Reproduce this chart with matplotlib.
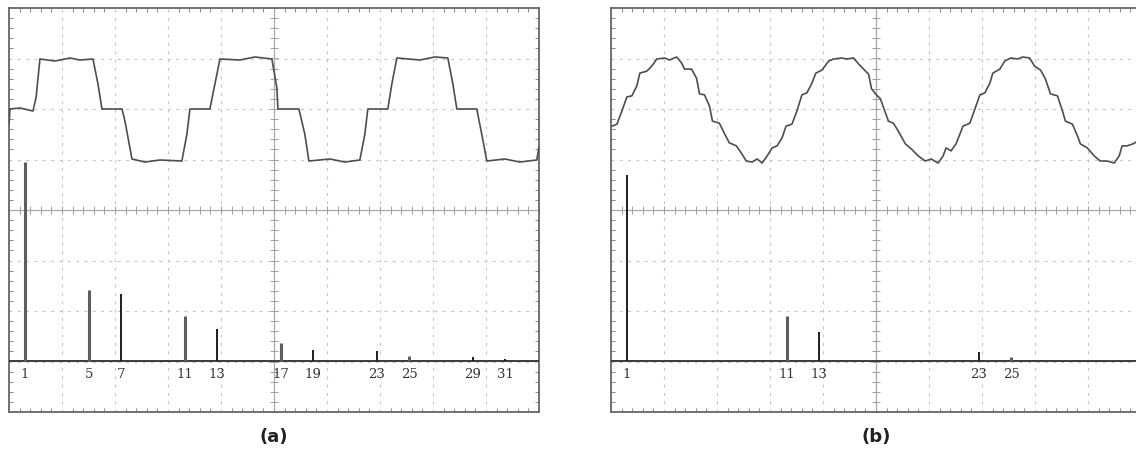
import matplotlib
matplotlib.use("Agg")
import matplotlib.pyplot as plt
import numpy as np

# time axis: 10 div = 50 ms (three 60 Hz cycles), vertical: 8 div
# waveform (a): 120-degree quasi-square wave (ms, per-unit)
t_a = [0.00, 0.09, 1.04, 2.26, 2.55, 2.92, 4.34, 5.75, 6.70, 7.92, 8.39, 8.77,
       10.66, 10.94, 11.60, 12.83, 14.24, 16.31, 16.78, 17.07, 18.95, 19.43, 19.90,
       21.78, 23.20, 24.80, 25.27, 25.37, 27.35, 27.91, 28.29, 30.27, 31.68, 33.10,
       33.57, 33.85, 35.74, 36.12, 36.59, 38.76, 40.17, 41.40, 41.87, 42.25, 44.13,
       44.60, 45.08, 46.77, 48.19, 49.79, 49.98]
v_a = [-0.30, 0.00, 0.02, -0.04, 0.22, 0.99, 0.95, 1.01, 0.97, 0.99, 0.50, 0.00,
       0.00, -0.24, -0.99, -1.05, -1.01, -1.03, -0.50, 0.00, 0.00, 0.50, 0.99,
       0.97, 1.03, 0.99, 0.42, 0.00, 0.00, -0.50, -1.03, -0.99, -1.05, -1.01,
       -0.50, 0.00, 0.00, 0.50, 1.01, 0.97, 1.03, 1.01, 0.50, 0.00, 0.00,
       -0.50, -1.03, -0.99, -1.05, -1.01, -0.77]

# waveform (b): stepped (multilevel) sine
t_b = [0.09, 0.56, 1.03, 1.50, 1.97, 2.44, 2.72, 3.38, 3.85, 4.32, 5.07, 5.53,
       6.19, 6.66, 6.94, 7.60, 8.07, 8.35, 8.82, 9.29, 9.57, 10.22, 10.69, 11.16,
       11.82, 12.29, 12.76, 13.32, 13.79, 14.26, 14.73, 15.20, 15.67, 16.14, 16.51,
       17.07, 17.54, 18.01, 18.48, 18.95, 19.32, 19.89, 20.54, 21.01, 21.76, 22.23,
       22.89, 23.36, 23.83, 24.30, 24.58, 24.95, 25.42, 26.17, 26.64, 27.11, 27.77,
       28.33, 28.99, 29.64, 30.21, 30.86, 31.33, 31.61, 32.08, 32.55, 33.21, 33.86,
       34.33, 34.80, 35.27, 35.74, 36.02, 36.68, 37.15, 37.71, 38.37, 38.84, 39.49,
       39.96, 40.53, 40.99, 41.46, 42.12, 42.59, 42.87, 43.53, 44.00, 44.28, 44.93,
       45.59, 46.15, 46.81, 47.47, 47.94, 48.22, 48.69, 49.25, 49.72]
v_b = [-0.34, -0.30, -0.04, 0.24, 0.26, 0.46, 0.71, 0.75, 0.85, 0.99, 1.01, 0.97,
       1.03, 0.91, 0.79, 0.79, 0.61, 0.30, 0.28, 0.06, -0.24, -0.28, -0.48, -0.67,
       -0.73, -0.87, -1.03, -1.05, -0.99, -1.07, -0.93, -0.77, -0.73, -0.57, -0.34,
       -0.30, -0.04, 0.28, 0.32, 0.51, 0.71, 0.77, 0.95, 0.99, 1.01, 0.99,
       1.01, 0.89, 0.79, 0.69, 0.40, 0.30, 0.20, -0.24, -0.28, -0.44, -0.69,
       -0.79, -0.93, -1.03, -0.99, -1.07, -0.93, -0.77, -0.83, -0.69, -0.34, -0.28,
       0.00, 0.28, 0.32, 0.51, 0.71, 0.79, 0.95, 1.01, 0.99, 1.03, 1.01,
       0.85, 0.77, 0.59, 0.30, 0.26, -0.04, -0.24, -0.30, -0.53, -0.69, -0.77,
       -0.93, -1.03, -1.03, -1.07, -0.93, -0.73, -0.73, -0.69, -0.63]

# harmonic spectra (amplitude, % of fundamental of panel a)
orders_a = [1, 5, 7, 11, 13, 17, 19, 23, 25, 29, 31]
amps_a = [100, 35.7, 33.7, 22.6, 16.1, 9.0, 5.5, 5.0, 2.5, 2.0, 1.0]
orders_b = [1, 11, 13, 23, 25]
amps_b = [93.5, 22.6, 14.6, 4.5, 2.0]

# which spectral lines show up as the wider grey strokes
wide_a = [1, 5, 11, 17, 25]
wide_b = [11, 25]

W, H = 1136, 459
fig = plt.figure(figsize=(W / 100, H / 100), dpi=100)
fig.patch.set_facecolor('white')

GRID = '#c4c4c4'
TRACE = '#4e4e4e'


def scope_panel(left_px, t, v, orders, amps, wide, caption):
    rect = [left_px / W, (H - 412) / H, 530 / W, 404 / H]
    ax = fig.add_axes(rect)
    ax.set_xlim(0, 50)
    ax.set_ylim(-4, 4)
    ax.set_xticks(np.arange(0, 51, 5))
    ax.set_yticks(np.arange(-4, 5, 1))
    ax.set_xticks(np.arange(0, 50.01, 1), minor=True)
    ax.set_yticks(np.arange(-4, 4.01, 0.2), minor=True)
    ax.tick_params(which='both', direction='in', top=True, right=True,
                   labelbottom=False, labelleft=False, color='#8a8a8a')
    ax.tick_params(which='major', length=0)
    ax.tick_params(which='minor', length=3, width=0.7)
    for s in ax.spines.values():
        s.set_color('#666666')
        s.set_linewidth(1.3)

    # dashed graticule
    for x in range(5, 50, 5):
        if x != 25:
            ax.axvline(x, color=GRID, lw=0.8, ls=(0, (2.5, 5)), zorder=1)
    for y in range(-3, 4):
        if y != 0:
            ax.axhline(y, color=GRID, lw=0.8, ls=(0, (2.5, 5)), zorder=1)
    # centre cross with small ticks
    ax.axvline(25, color='#a8a8a8', lw=0.9, zorder=1)
    ax.axhline(0, color='#a8a8a8', lw=0.9, zorder=1)
    ax.plot(np.arange(0, 50.01, 1), np.zeros(51), ls='none', marker='|',
            ms=6, mew=0.7, color='#a0a0a0', zorder=1)
    ax.plot(np.full(41, 25.0), np.arange(-4, 4.01, 0.2), ls='none', marker='_',
            ms=6, mew=0.7, color='#a0a0a0', zorder=1)

    # waveform, channel offset +2 div
    ax.plot(t, np.array(v) + 2, color=TRACE, lw=1.2, zorder=3)

    # spectrum overlay
    sx = fig.add_axes(rect, facecolor='none')
    sx.set_xlim(0, 33.125)
    sx.set_ylim(-25.6, 177.4)
    sx.axis('off')
    sx.axhline(0, color='#3a3a3a', lw=1.4, zorder=2)
    widths = [2.2 if n in wide else 1.4 for n in orders]
    colors = ['#5e5e5e' if n in wide else '#1e1e1e' for n in orders]
    sx.vlines(orders, 0, amps, colors=colors, linewidths=widths, zorder=3)
    for n in orders:
        sx.text(n, -7.0, str(n), ha='center', va='center', fontsize=9.5,
                family='DejaVu Serif', color='#333333')

    fig.text((left_px + 265) / W, (H - 437) / H, caption, ha='center',
             va='center', fontsize=13, fontweight='bold', color='#222222')
    return ax


scope_panel(9, t_a, v_a, orders_a, amps_a, wide_a, '(a)')
scope_panel(611, t_b, v_b, orders_b, amps_b, wide_b, '(b)')

fig.savefig('out.png', dpi=100, facecolor='white')
